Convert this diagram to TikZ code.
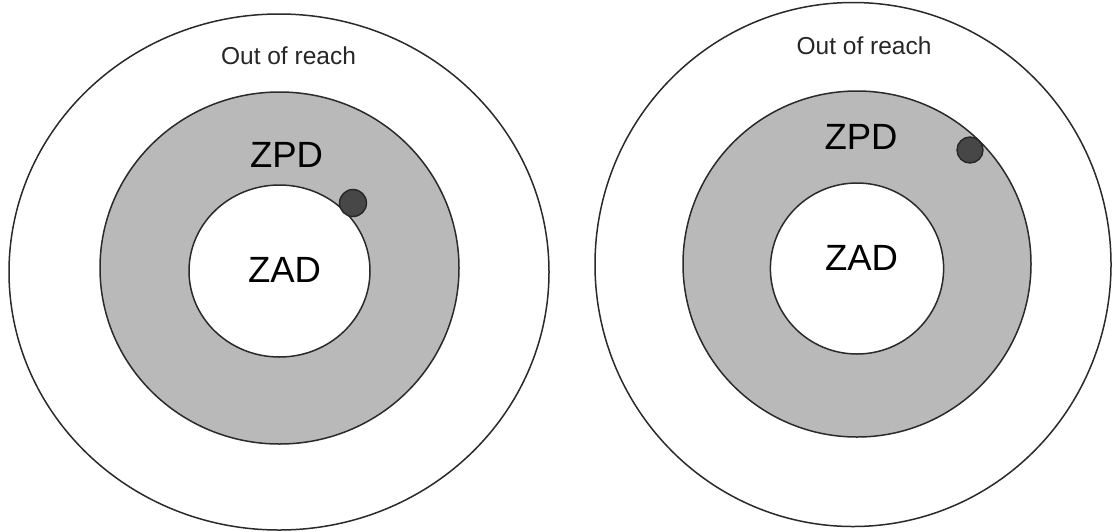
\documentclass[tikz,border=0pt]{standalone}
\usepackage{fontspec}
\setmainfont{Liberation Sans}
\definecolor{ringline}{HTML}{2A2A2A}
\definecolor{zpdgray}{HTML}{B9B9B9}
\definecolor{dotgray}{HTML}{474747}
\begin{document}
\begin{tikzpicture}[x=1pt,y=-1pt,
  zone/.style={draw=ringline, line width=1.5pt},
  learner/.style={draw=black!85, line width=1.4pt, fill=dotgray},
  smalllabel/.style={inner sep=0pt, text=black!85, font=\fontsize{24.5}{29}\selectfont},
  biglabel/.style={inner sep=0pt, text=black, font=\fontsize{36.5}{43}\selectfont}]
\useasboundingbox[fill=white] (0,0) rectangle (1113,531);

% left target: learner at the edge of the actual development zone
\draw[zone, fill=white] (279,272) ellipse [x radius=270pt, y radius=258pt];
\draw[zone, fill=zpdgray] (279.5,268) ellipse [x radius=179.5pt, y radius=176pt];
\draw[zone, fill=white] (279.5,271) ellipse [x radius=90.5pt, y radius=86pt];
\draw[learner] (353,203) circle [radius=13.5pt];
\node[smalllabel] (reachL) at (288.5,56) {Out of reach};
\node[biglabel] (zpdL) at (286.5,155) {ZPD};
\node[biglabel] (zadL) at (284.5,270) {ZAD};

% right target: learner at the outer edge of the ZPD
\draw[zone, fill=white] (853,264.5) ellipse [x radius=258pt, y radius=262pt];
\draw[zone, fill=zpdgray] (857,264) ellipse [x radius=174pt, y radius=173pt];
\draw[zone, fill=white] (857,268.5) ellipse [x radius=86.6pt, y radius=85.5pt];
\draw[learner] (970,150) circle [radius=13pt];
\node[smalllabel] (reachR) at (864,46) {Out of reach};
\node[biglabel] (zpdR) at (861,137) {ZPD};
\node[biglabel] (zadR) at (861.5,258) {ZAD};
\end{tikzpicture}
\end{document}
